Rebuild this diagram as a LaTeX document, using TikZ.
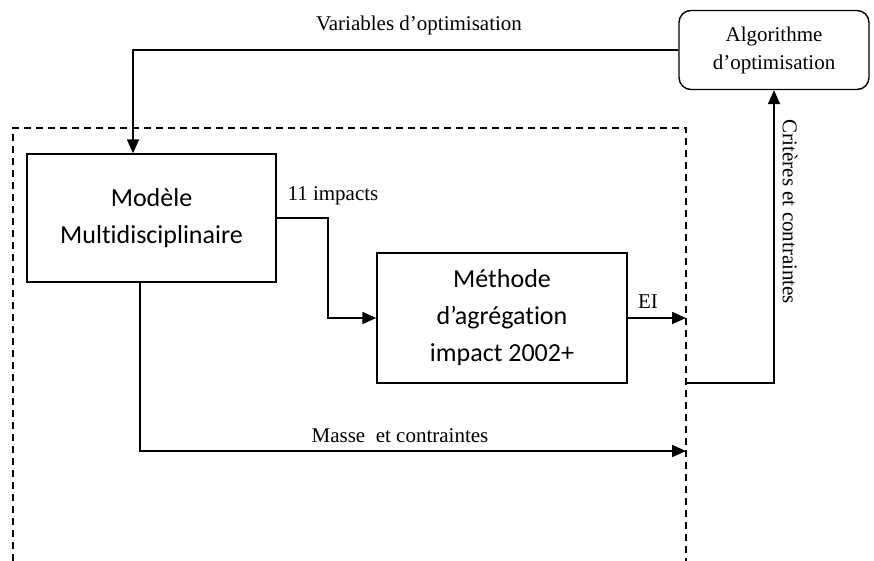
\documentclass[tikz,border=0pt]{standalone}
\usepackage{fontspec}
\setmainfont{Liberation Serif}
\newfontfamily\boxfont[Ligatures=NoCommon]{Carlito}
\usetikzlibrary{arrows.meta}
\begin{document}
\begin{tikzpicture}[x=1pt,y=-1pt,
  blockbox/.style={draw, line width=1.4pt, inner sep=0pt, align=center,
    font=\boxfont\fontsize{26}{37}\selectfont},
  algobox/.style={draw, line width=1.4pt, rounded corners=12pt, inner sep=0pt, align=center,
    font=\fontsize{21}{28}\selectfont},
  arr/.style={line width=1.8pt, -{Triangle[length=14pt,width=12pt]}},
  lab/.style={font=\fontsize{21}{25}\selectfont, inner sep=0pt},
  frame/.style={line width=1.2pt, dash pattern=on 7pt off 5pt}]
\useasboundingbox (0,0) rectangle (874,561);
% dashed frame
\draw[frame] (13,561) -- (13,128) -- (686,128) -- (686,561);
% nodes
\node[algobox, minimum width=190pt, minimum height=79pt] (algo) at (774,50) {Algorithme\\d’optimisation};
\node[blockbox, minimum width=249pt, minimum height=128pt] (modele) at (151.5,218) {Modèle\\Multidisciplinaire};
\node[blockbox, minimum width=250pt, minimum height=130pt] (methode) at (502,318) {Méthode\\d’agrégation\\impact 2002+};
% coordinates
\coordinate (ei) at (686,318);
\coordinate (masse) at (686,451);
\coordinate (out) at (686,383);
% connectors
\draw[arr] (algo.west) -| ([xshift=-18.5pt]modele.north);
\draw[arr] (modele.east) -- ++(51,0) |- (methode.west);
\draw[arr] (methode.east) -- (ei);
\draw[arr] ([xshift=-11.5pt]modele.south) |- (masse);
\draw[arr] (out) -| (algo.south);
% labels
\node[lab] (lvar) at (419,25) {Variables d’optimisation};
\node[lab] (limp) at (333,196) {11 impacts};
\node[lab] (lei) at (648,302) {EI};
\node[lab] (lmas) at (400,436) {Masse\ \ et contraintes};
\node[lab, rotate=-90] (lcrit) at (790,212) {Critères et contraintes};
\end{tikzpicture}
\end{document}
